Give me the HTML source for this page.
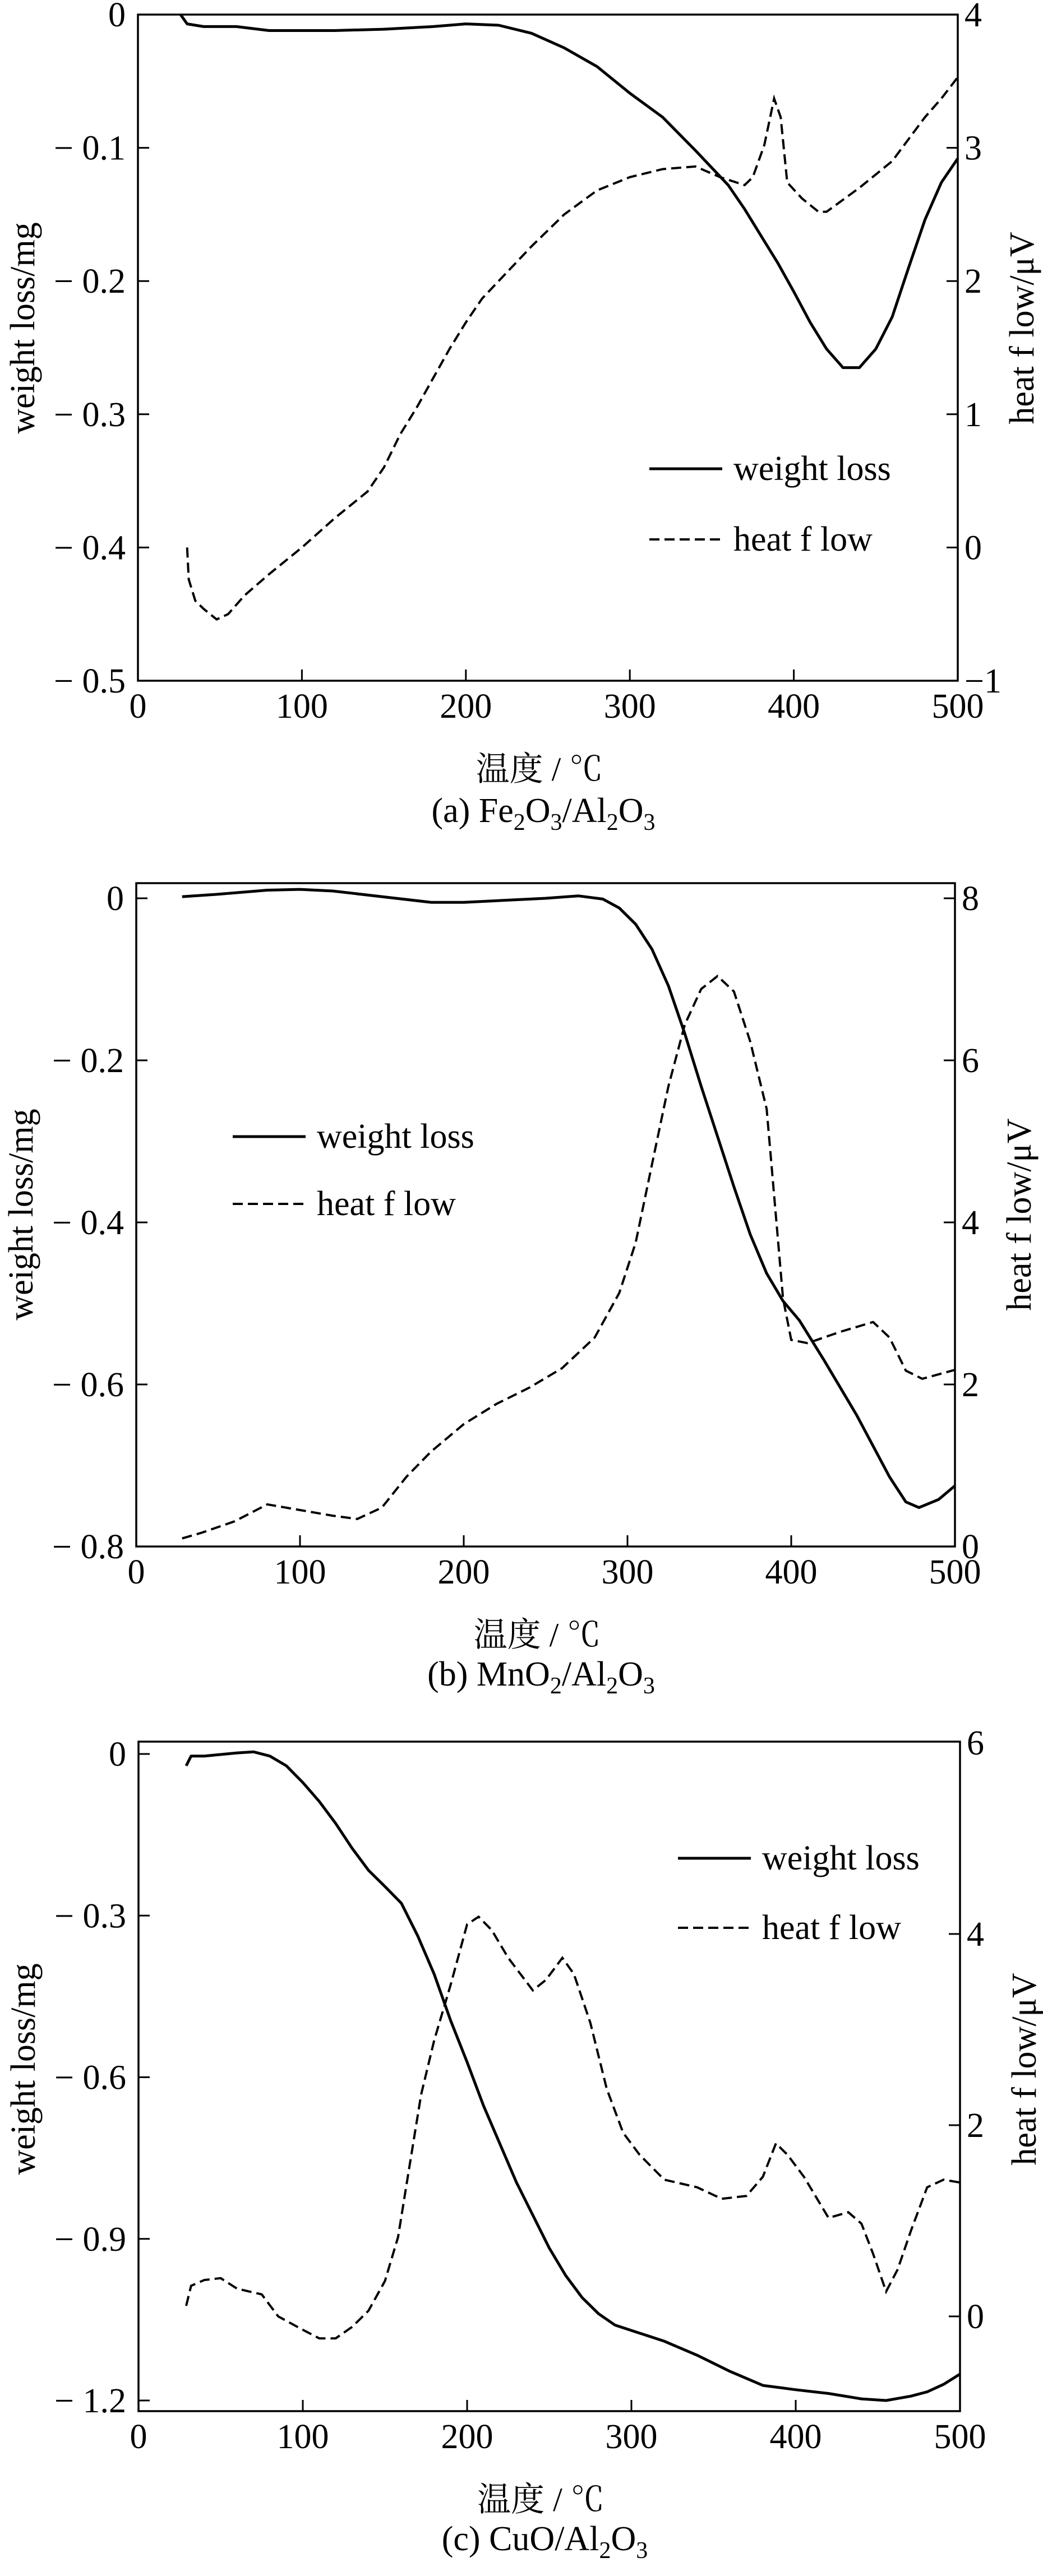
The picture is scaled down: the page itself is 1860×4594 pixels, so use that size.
<!DOCTYPE html>
<html><head><meta charset="utf-8">
<style>
html,body{margin:0;padding:0;background:#fff;}
svg{display:block;}
text{font-family:"Liberation Serif","Noto Serif CJK SC",serif;fill:#000;}
</style></head>
<body>
<svg id="fig" width="1860" height="4594" viewBox="0 0 1860 4594" xmlns="http://www.w3.org/2000/svg"></svg>
<script>
// ---------- Chart (a) Fe2O3/Al2O3 ----------
const aWTemp = [26,30,40,60,80,100,120,150,180,200,220,240,260,280,300,320,340,360,370,380,390,400,410,420,430,440,450,460,470,480,490,500];
const aWeight = [0,-0.007,-0.009,-0.009,-0.012,-0.012,-0.012,-0.011,-0.009,-0.007,-0.008,-0.014,-0.025,-0.039,-0.059,-0.077,-0.102,-0.128,-0.146,-0.166,-0.186,-0.208,-0.231,-0.251,-0.265,-0.265,-0.251,-0.227,-0.190,-0.154,-0.126,-0.108];
const aHTemp = [30,31,35,40,48,55,65,80,100,120,140,150,160,170,180,190,200,210,220,240,260,280,300,320,340,355,370,375,382,388,392,396,405,415,420,440,460,480,490,500];
const aHeat = [0,-0.24,-0.40,-0.46,-0.54,-0.50,-0.36,-0.20,0.0,0.22,0.42,0.60,0.85,1.05,1.27,1.49,1.69,1.87,2.00,2.26,2.50,2.68,2.78,2.84,2.86,2.78,2.72,2.78,3.02,3.37,3.23,2.74,2.62,2.52,2.52,2.70,2.90,3.23,3.37,3.53];
const aLeftTicks = [0,-0.1,-0.2,-0.3,-0.4,-0.5];
const aLeftLabels = ["0","− 0.1","− 0.2","− 0.3","− 0.4","− 0.5"];
const aRightTicks = [4,3,2,1,0,-1];
const aRightLabels = ["4","3","2","1","0","−1"];

// ---------- Chart (b) MnO2/Al2O3 ----------
const bWTemp = [28,50,80,100,120,150,180,200,250,270,285,295,305,315,325,335,345,355,365,375,385,395,405,420,440,460,470,478,490,500];
const bWeight = [0.002,0.005,0.010,0.011,0.009,0.002,-0.005,-0.005,0,0.003,-0.001,-0.012,-0.032,-0.063,-0.108,-0.167,-0.232,-0.294,-0.356,-0.415,-0.463,-0.497,-0.521,-0.570,-0.638,-0.714,-0.745,-0.752,-0.742,-0.725];
const bHTemp = [28,40,60,80,100,120,135,150,165,180,200,220,240,260,280,295,305,315,325,335,345,355,365,375,385,390,395,400,410,430,450,460,470,480,500];
const bHeat = [0.10,0.17,0.31,0.52,0.45,0.38,0.34,0.48,0.86,1.17,1.51,1.76,1.96,2.20,2.58,3.13,3.75,4.72,5.68,6.44,6.88,7.04,6.85,6.23,5.40,4.23,3.06,2.55,2.51,2.65,2.77,2.58,2.17,2.07,2.18];
const bLeftTicks = [0,-0.2,-0.4,-0.6,-0.8];
const bLeftLabels = ["0","− 0.2","− 0.4","− 0.6","− 0.8"];
const bRightTicks = [8,6,4,2,0];
const bRightLabels = ["8","6","4","2","0"];

// ---------- Chart (c) CuO/Al2O3 ----------
const cWTemp = [29,32,40,60,70,80,90,100,110,120,130,140,150,160,170,180,190,200,210,220,230,240,250,260,270,280,290,300,320,340,360,380,400,420,440,455,470,480,490,500];
const cWeight = [-0.022,-0.004,-0.004,0.002,0.004,-0.004,-0.022,-0.053,-0.088,-0.129,-0.175,-0.216,-0.246,-0.277,-0.338,-0.409,-0.495,-0.572,-0.653,-0.724,-0.795,-0.856,-0.917,-0.968,-1.009,-1.039,-1.06,-1.07,-1.09,-1.116,-1.146,-1.172,-1.18,-1.187,-1.197,-1.2,-1.192,-1.184,-1.17,-1.151];
const cHTemp = [29,32,40,50,60,75,85,100,110,120,130,140,150,158,165,172,180,190,200,207,215,225,240,248,258,265,275,285,295,305,320,340,355,370,380,388,395,405,420,432,440,447,455,462,470,480,490,500];
const cHeat = [0.11,0.32,0.38,0.40,0.29,0.23,0,-0.14,-0.23,-0.23,-0.11,0.06,0.37,0.83,1.58,2.32,2.89,3.47,4.10,4.18,4.04,3.75,3.41,3.52,3.75,3.58,3.07,2.38,1.92,1.69,1.43,1.35,1.23,1.26,1.46,1.81,1.69,1.46,1.03,1.09,0.97,0.66,0.26,0.49,0.89,1.35,1.43,1.40];
const cLeftTicks = [0,-0.3,-0.6,-0.9,-1.2];
const cLeftLabels = ["0","− 0.3","− 0.6","− 0.9","− 1.2"];
const cRightTicks = [6,4,2,0];
const cRightLabels = ["6","4","2","0"];

const xTicks = [0,100,200,300,400,500];
const xLabels = ["0","100","200","300","400","500"];

const NS = "http://www.w3.org/2000/svg";
const svg = document.getElementById("fig");
function mk(tag, attrs, parent){
  const e = document.createElementNS(NS, tag);
  for (const k in attrs) e.setAttribute(k, attrs[k]);
  (parent||svg).appendChild(e);
  return e;
}
const FS = 62;

function drawChart(o){
  const g = mk("g", {});
  
  
  const xS = t => o.L + (t - 0) / 500 * (o.R - o.L);
  const yW = v => o.w0y + (v - 0) / (o.wMinV - 0) * (o.wMinY - o.w0y);
  const yH = v => o.h0y + (v - o.h0v) / (o.h1v - o.h0v) * (o.h1y - o.h0y);

  const fr = mk("rect", {x:o.L, y:o.T, width:o.R-o.L, height:o.B-o.T, fill:"none", stroke:"#000", "stroke-width":3.5}, g);
  
  

  xTicks.forEach((t,i)=>{
    const x = xS(t);
    if (i>0 && i<xTicks.length-1) {
      const tk = mk("line", {x1:x, x2:x, y1:o.B, y2:o.B-20, stroke:"#000", "stroke-width":3}, g);
      
      
    }
    const tl = mk("text", {x:x, y:o.B+66, "font-size":FS, "text-anchor":"middle"}, g);
    tl.textContent = xLabels[i];
    
    
  });
  o.lt.forEach((v,i)=>{
    const y = yW(v);
    if (Math.abs(y-o.T)>3 && Math.abs(y-o.B)>3) {
      const tk = mk("line", {x1:o.L, x2:o.L+20, y1:y, y2:y, stroke:"#000", "stroke-width":3}, g);
      
      
    }
    const tl = mk("text", {x:o.L-22, y:y+21, "font-size":FS, "text-anchor":"end"}, g);
    tl.textContent = o.ll[i];
    
    
  });
  o.rt.forEach((v,i)=>{
    const y = yH(v);
    if (Math.abs(y-o.T)>3 && Math.abs(y-o.B)>3) {
      const tk = mk("line", {x1:o.R, x2:o.R-20, y1:y, y2:y, stroke:"#000", "stroke-width":3}, g);
      
      
    }
    const tl = mk("text", {x:o.R+12, y:y+21, "font-size":FS, "text-anchor":"start"}, g);
    tl.textContent = o.rl[i];
    
    
  });

  const wPts = o.wt.map((t,i)=>xS(t).toFixed(1)+","+yW(o.wv[i]).toFixed(1)).join(" ");
  const wl = mk("polyline", {points:wPts, fill:"none", stroke:"#000", "stroke-width":5, "stroke-linejoin":"round"}, g);
  
  
  const hPts = o.ht.map((t,i)=>xS(t).toFixed(1)+","+yH(o.hv[i]).toFixed(1)).join(" ");
  const hl = mk("polyline", {points:hPts, fill:"none", stroke:"#000", "stroke-width":4, "stroke-dasharray":"18 9"}, g);
  
  

  const ly = o.labY;
  const t1 = mk("text", {x:0, y:0, "font-size":FS, "text-anchor":"middle", transform:`translate(${o.L-185},${ly}) rotate(-90)`}, g);
  t1.textContent = "weight loss/mg";
  
  
  const t2 = mk("text", {x:0, y:0, "font-size":FS, "text-anchor":"middle", transform:`translate(${o.R+135},${ly}) rotate(-90)`}, g);
  t2.textContent = "heat f low/μV";
  
  
  const xt = mk("text", {x:(o.L+o.R)/2-15, y:o.B+178, "font-size":60, "text-anchor":"middle"}, g);
  xt.textContent = "温度 / ℃";
  
  

  const cap = mk("text", {x:(o.L+o.R)/2-8, y:o.B+o.capOff, "font-size":FS, "text-anchor":"middle"}, g);
  
  
  o.cap.forEach(p=>{
    const ts = mk("tspan", p[1] ? {"font-size":42, dy:14} : {dy: p[2]||0}, cap);
    ts.textContent = p[0];
  });

  const lg = mk("g", {}, g);
  
  
  const l1 = mk("line", {x1:o.lgX, x2:o.lgX+130, y1:o.lgY, y2:o.lgY, stroke:"#000", "stroke-width":5}, lg);
  
  
  const lt1 = mk("text", {x:o.lgX+150, y:o.lgY+20, "font-size":FS}, lg);
  lt1.textContent = "weight loss";
  
  
  const l2 = mk("line", {x1:o.lgX, x2:o.lgX+130, y1:o.lgY+o.lgGap, y2:o.lgY+o.lgGap, stroke:"#000", "stroke-width":4, "stroke-dasharray":"18 9"}, lg);
  
  
  const lt2 = mk("text", {x:o.lgX+150, y:o.lgY+o.lgGap+20, "font-size":FS}, lg);
  lt2.textContent = "heat f low";
  
  
}

drawChart({id:"fe2o3", L:246, R:1708, T:26, B:1214,
  w0y:26, wMinV:-0.5, wMinY:1214, h0v:4, h0y:26, h1v:-1, h1y:1214,
  lt:aLeftTicks, ll:aLeftLabels, rt:aRightTicks, rl:aRightLabels,
  wt:aWTemp, wv:aWeight, ht:aHTemp, hv:aHeat, labY:585,
  capOff:252, cap:[["(a) Fe",0],["2",1],["O",0,-14],["3",1],["/Al",0,-14],["2",1],["O",0,-14],["3",1]],
  lgX:1158, lgY:836, lgGap:126});

drawChart({id:"mno2", L:243, R:1703, T:1575, B:2758,
  w0y:1602, wMinV:-0.8, wMinY:2758, h0v:0, h0y:2758, h1v:8, h1y:1602,
  lt:bLeftTicks, ll:bLeftLabels, rt:bRightTicks, rl:bRightLabels,
  wt:bWTemp, wv:bWeight, ht:bHTemp, hv:bHeat, labY:2166,
  capOff:248, cap:[["(b) MnO",0],["2",1],["/Al",0,-14],["2",1],["O",0,-14],["3",1]],
  lgX:415, lgY:2027, lgGap:120});

drawChart({id:"cuo", L:247, R:1712, T:3106, B:4300,
  w0y:3128, wMinV:-1.2, wMinY:4281, h0v:0, h0y:4131, h1v:6, h1y:3108,
  lt:cLeftTicks, ll:cLeftLabels, rt:cRightTicks, rl:cRightLabels,
  wt:cWTemp, wv:cWeight, ht:cHTemp, hv:cHeat, labY:3690,
  capOff:248, cap:[["(c) CuO/Al",0],["2",1],["O",0,-14],["3",1]],
  lgX:1209, lgY:3314, lgGap:124});
</script>
</body></html>
